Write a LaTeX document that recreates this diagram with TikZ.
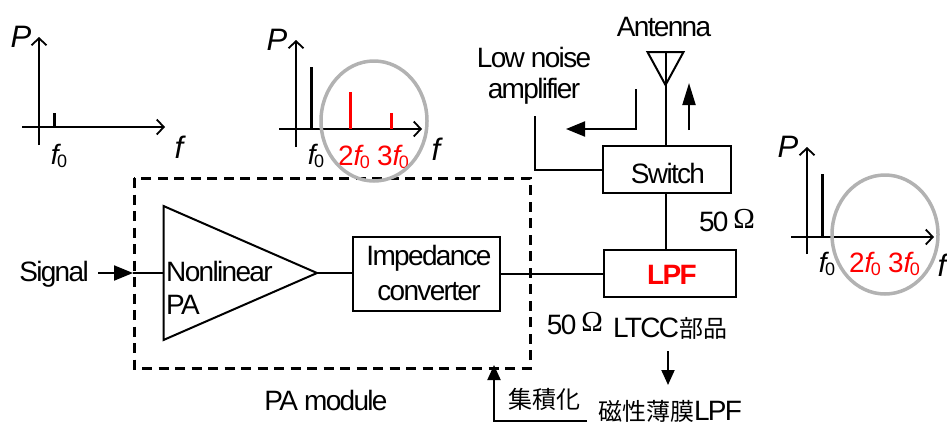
\documentclass[tikz,border=0pt]{standalone}
\usepackage{fontspec}
\setmainfont[LetterSpace=-6]{Liberation Sans}
\newfontfamily\cjk{Noto Sans CJK JP}
\newfontfamily\serifom{Liberation Serif}
\usetikzlibrary{arrows.meta}
\newcommand{\fzero}{{\itshape f}\kern-1.5pt{\fontsize{18}{18}\selectfont\raisebox{-2.5pt}{0}}}
\newcommand{\ohm}{50\kern5pt{\fontsize{29}{29}\serifom\raisebox{3pt}{Ω}}}
\newcommand{\cjkt}[1]{{\fontsize{24}{24}\selectfont\cjk #1}}
\definecolor{ringgray}{HTML}{B2B2B2}
\definecolor{redtxt}{HTML}{FF0000}
\tikzset{
  x=1pt,y=-1pt,
  lbl/.style={inner sep=0pt,font=\fontsize{28}{28}\selectfont},
  itl/.style={inner sep=0pt,font=\fontsize{31}{31}\selectfont\itshape},
  tick/.style={inner sep=0pt,font=\fontsize{28}{28}\selectfont},
  blk/.style={draw,line width=2pt,inner sep=0pt},
  wire/.style={line width=2pt},
  axis/.style={line width=1.8pt,-{Straight Barb[length=7pt,width=15pt,line width=1.8pt]}},
  bar/.style={line width=3pt},
  redbar/.style={line width=3pt,draw=redtxt},
  ring/.style={draw=ringgray,line width=3.5pt},
  flow/.style={line width=2pt,-{Triangle[length=19pt,width=15pt]}},
  flowlong/.style={line width=2pt,-{Triangle[length=22pt,width=13pt]}},
  flowshort/.style={line width=2pt,-{Triangle[length=15pt,width=13pt]}},
  modbox/.style={draw,line width=3pt,dash pattern=on 10pt off 6.5pt},
}
\begin{document}
\begin{tikzpicture}
\useasboundingbox (0,0) rectangle (947,426);
% graph 1
\coordinate (a1b) at (39,145); \coordinate (a1t) at (39,37);
\coordinate (a1l) at (22,127); \coordinate (a1r) at (165,127);
\draw[axis] (a1b) -- (a1t); \draw[axis] (a1l) -- (a1r);
\coordinate (s1t) at (54,113); \coordinate (s1b) at (54,127);
\draw[bar] (s1t) -- (s1b);
\node[itl] (p1) at (21,37) {P};
\node[itl] (f1) at (179,147) {f};
\node[tick] (z1) at (59,156) {\fzero};
% graph 2
\coordinate (a2b) at (296,147); \coordinate (a2t) at (296,40);
\coordinate (a2l) at (279,129); \coordinate (a2r) at (422,129);
\draw[axis] (a2b) -- (a2t); \draw[axis] (a2l) -- (a2r);
\coordinate (s2t) at (311,67); \coordinate (s2b) at (311,129);
\coordinate (s3t) at (350,92); \coordinate (s3b) at (350,129);
\coordinate (s4t) at (391,113); \coordinate (s4b) at (391,129);
\draw[bar] (s2t) -- (s2b);
\draw[redbar] (s3t) -- (s3b);
\draw[redbar] (s4t) -- (s4b);
\node[itl] (p2) at (277,40) {P};
\node[itl] (f2) at (436,149) {f};
\node[tick] (z2) at (316,156) {\fzero};
\node[tick,text=redtxt] (z22) at (354,157) {2\fzero};
\node[tick,text=redtxt] (z23) at (393,157) {3\fzero};
% graph 3
\coordinate (a3b) at (807,254); \coordinate (a3t) at (807,147);
\coordinate (a3l) at (791,237); \coordinate (a3r) at (934,237);
\draw[axis] (a3b) -- (a3t); \draw[axis] (a3l) -- (a3r);
\coordinate (s5t) at (822,174); \coordinate (s5b) at (822,237);
\draw[bar] (s5t) -- (s5b);
\node[itl] (p3) at (788,147) {P};
\node[itl] (f3) at (942,265) {f};
\node[tick] (z3) at (827,264) {\fzero};
\node[tick,text=redtxt] (z32) at (865,264) {2\fzero};
\node[tick,text=redtxt] (z33) at (904,264) {3\fzero};
% module
\draw[modbox] (134,178) rectangle (530,368);
% PA
\coordinate (tl) at (163.5,206); \coordinate (tb) at (163.5,340); \coordinate (tip) at (317,273);
\coordinate (tin) at (163.5,273);
\draw[wire] (tl) -- (tip) -- (tb) -- cycle;
\node[lbl,anchor=west,align=left] (nl) at (166,271) {Nonlinear};
\node[lbl,anchor=west,align=left] (pa) at (166,305) {PA};
\node[lbl] (sig) at (54,274) {Signal};
\coordinate (sigs) at (98,273); \coordinate (sige) at (133,273);
\draw[flow] (sigs) -- (sige);
\draw[wire] (sige) -- (tin);
\node[blk,minimum width=147pt,minimum height=74pt] (imp) at (426.5,274) {};
\node[lbl] (imp1) at (429,258) {Impedance};
\node[lbl] (imp2) at (429,292) {converter};
\draw[wire] (tip) -- (tip -| imp.west);
\node[blk,minimum width=132pt,minimum height=47pt] (lpf) at (670,273.5) {};
\node[inner sep=0pt,text=redtxt,font=\fontsize{28}{28}\selectfont\bfseries] (lpft) at (672,275) {LPF};
\node[blk,minimum width=128pt,minimum height=47pt] (sw) at (667,169.5) {};
\node[lbl] (swt) at (668,173) {Switch};
\draw[wire] (imp.east |- lpf.west) -- (lpf.west);
\coordinate (swb) at (665.5,193); \coordinate (lpt) at (665.5,250);
\draw[wire] (swb) -- (lpt);
% antenna
\coordinate (al) at (647.5,52); \coordinate (ar) at (683.5,52); \coordinate (ab) at (665.5,85); \coordinate (at) at (665.5,52);
\coordinate (swt2) at (665.5,146);
\draw[wire,line join=miter] (al) -- (ar) -- (ab) -- cycle;
\draw[wire] (at) -- (ab) -- (swt2);
\node[lbl] (ant) at (664,27) {Antenna};
\coordinate (up1) at (689,130); \coordinate (up2) at (689,83);
\draw[flowlong] (up1) -- (up2);
\coordinate (ln1) at (636,89); \coordinate (ln2) at (636,129); \coordinate (ln3) at (566,129);
\draw[flow] (ln1) -- (ln2) -- (ln3);
\coordinate (lq1) at (535,116); \coordinate (lq2) at (535,170);
\draw[wire] (lq1) -- (lq2) -- (sw.west |- lq2);
\node[lbl] (low) at (534,57) {Low noise};
\node[lbl] (amp) at (534,91) {amplifier};
\node[lbl] (o1) at (727,221) {\ohm};
\node[lbl] (o2) at (575,324) {\ohm};
\node[lbl] (ltcc) at (670,328) {LTCC\cjkt{部品}};
\node[lbl] (mag) at (670,411) {\cjkt{磁性薄膜}LPF};
\coordinate (m1) at (668,351); \coordinate (m2) at (668,385);
\draw[flowshort] (m1) -- (m2);
\node[lbl] (pam) at (326,400) {PA module};
\node[lbl] (int) at (544,399) {\cjkt{集積化}};
\coordinate (i1) at (587,421); \coordinate (i2) at (494,421); \coordinate (i3) at (494,365);
\draw[flowshort] (i1) -- (i2) -- (i3);
% rings
\draw[ring] (374,121) ellipse [x radius=53,y radius=60];
\draw[ring] (885,234.5) ellipse [x radius=53,y radius=59.5];
\end{tikzpicture}
\end{document}
